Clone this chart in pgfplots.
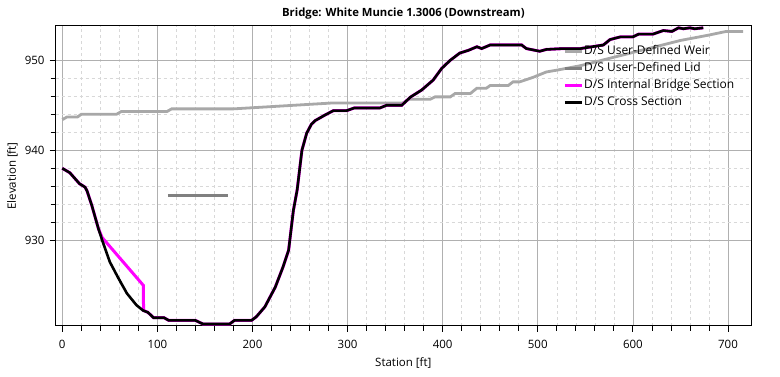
\documentclass[border=0pt]{standalone}
\usepackage{pgfplots}
\pgfplotsset{compat=1.18}
\usepackage{fontspec}
\setmainfont{Open Sans}
\definecolor{weir}{HTML}{A8A8A8}
\definecolor{lid}{HTML}{808080}
\definecolor{mag}{HTML}{FF00FF}
\definecolor{majgrid}{HTML}{B0B0B0}
\definecolor{mingrid}{HTML}{D8D8D8}
\begin{document}
\fontsize{12}{14}\selectfont
\begin{tikzpicture}[x=1pt,y=1pt]
\path[use as bounding box] (-55.7,-51) rectangle (724.3,326);
\begin{axis}[
  at={(0,0)}, anchor=south west,
  scale only axis, width=695.3pt, height=300.3pt,
  xmin=-6.9, xmax=724.2, ymin=920.48, ymax=953.84,
  xtick={0,100,...,700}, ytick={930,940,950},
  minor x tick num=4, minor y tick num=4,
  tick pos=left, tick align=outside,
  major tick length=6pt, minor tick length=5pt,
  every tick/.style={black, line width=0.8pt},
  grid=both,
  major grid style={majgrid, line width=0.7pt},
  minor grid style={mingrid, dashed, line width=0.6pt},
  axis line style={black, line width=1pt},
  /pgf/number format/assume math mode=true,
  /pgf/number format/1000 sep={},
  tick label style={font=\fontsize{11.5}{13.5}\selectfont},
  xticklabel style={yshift=-4pt},
  yticklabel style={xshift=-1pt},
  title={\bfseries Bridge: White Muncie 1.3006 (Downstream)},
  title style={font=\fontsize{11.3}{13.5}\selectfont, yshift=-4pt},
  xlabel={Station [ft]}, ylabel={Elevation [ft]},
  xlabel style={font=\fontsize{11.5}{13.5}\selectfont, yshift=-1pt},
  ylabel style={font=\fontsize{11.5}{13.5}\selectfont, yshift=-1pt},
  legend style={draw=none, fill=none, at={(rel axis cs:0.7296,0.937)}, anchor=north west,
    inner sep=0pt, row sep=4pt, nodes={inner sep=0.5pt, text height=9pt, text depth=3pt},
    font=\fontsize{12}{14}\selectfont},
  legend cell align=left,
  legend image code/.code={\draw[#1] (0pt,0pt) -- (17pt,0pt);},
]
\addplot[weir, line width=2.8pt, forget plot] coordinates {
(0,943.4) (5,943.7) (16,943.7) (20,944.0) (57,944.0) (62,944.3) (110,944.3) (115,944.6) (180,944.6)
(285,945.26) (358,945.26) (365,945.67) (387,945.67) (392,945.93) (408,945.93) (413,946.3) (429,946.3)
(436,946.9) (446,946.9) (450,947.2) (469,947.2) (474,947.6) (481,947.6) (495,948.1) (509,948.7)
(520,948.9) (530,949.1) (545,949.4) (560,949.8) (575,950.2) (590,950.6) (605,951.0) (620,951.4)
(635,951.8) (650,952.2) (665,952.5) (680,952.8) (698,953.2) (716,953.2)};
\addlegendimage{weir, line width=2.8pt}
\addlegendentry{D/S User-Defined Weir}
\addplot[lid, line width=3.5pt] coordinates {(111,935) (174,935)};
\addlegendentry{D/S User-Defined Lid}
\addplot[mag, line width=3pt] coordinates {
(0,938.0) (8,937.5) (18,936.3) (24,935.9) (26,935.5) (31,933.9) (38,931.3) (42,930.3)
(85.2,925.0) (85.5,922.2) (90,922.0) (96,921.4) (107,921.4) (112,921.1) (140,921.1) (148,920.7)
(176,920.7) (181,921.1) (199,921.1) (204,921.5) (213,922.6) (224,924.8) (232,927.0) (238,928.9)
(243,933.3) (247,935.6) (252,940.0) (257,941.9) (262,942.9) (266,943.3) (276,943.9) (285,944.4)
(299,944.4) (307,944.7) (334,944.7) (341,945.0) (357,945.0) (366,945.9) (378,946.7) (390,947.8)
(399,949.1) (408,950.0) (418,950.8) (427,951.1) (436,951.5) (441,951.3) (450,951.7) (483,951.7)
(488,951.3) (502,951.0) (509,951.2) (527,951.3) (545,951.3) (569,951.7) (576,952.3) (587,952.6)
(600,952.6) (606,952.9) (621,952.9) (632,953.3) (641,953.2) (648,953.6) (653,953.5) (660,953.6)
(665,953.5) (674,953.6)};
\addlegendentry{D/S Internal Bridge Section}
\addplot[black, line width=2.6pt] coordinates {
(0,938.0) (8,937.5) (18,936.3) (24,935.9) (26,935.5) (31,933.9) (38,931.3) (42,930.0)
(50,927.6) (59,925.8) (68,924.1) (78,922.8) (85,922.2) (90,922.0) (96,921.4) (107,921.4)
(112,921.1) (140,921.1) (148,920.7) (176,920.7) (181,921.1) (199,921.1) (204,921.5) (213,922.6)
(224,924.8) (232,927.0) (238,928.9) (243,933.3) (247,935.6) (252,940.0) (257,941.9) (262,942.9)
(266,943.3) (276,943.9) (285,944.4) (299,944.4) (307,944.7) (334,944.7) (341,945.0) (357,945.0)
(366,945.9) (378,946.7) (390,947.8) (399,949.1) (408,950.0) (418,950.8) (427,951.1) (436,951.5)
(441,951.3) (450,951.7) (483,951.7) (488,951.3) (502,951.0) (509,951.2) (527,951.3) (545,951.3)
(569,951.7) (576,952.3) (587,952.6) (600,952.6) (606,952.9) (621,952.9) (632,953.3) (641,953.2)
(648,953.6) (653,953.5) (660,953.6) (665,953.5) (674,953.6)};
\addlegendentry{D/S Cross Section}
\end{axis}
\end{tikzpicture}
\end{document}
